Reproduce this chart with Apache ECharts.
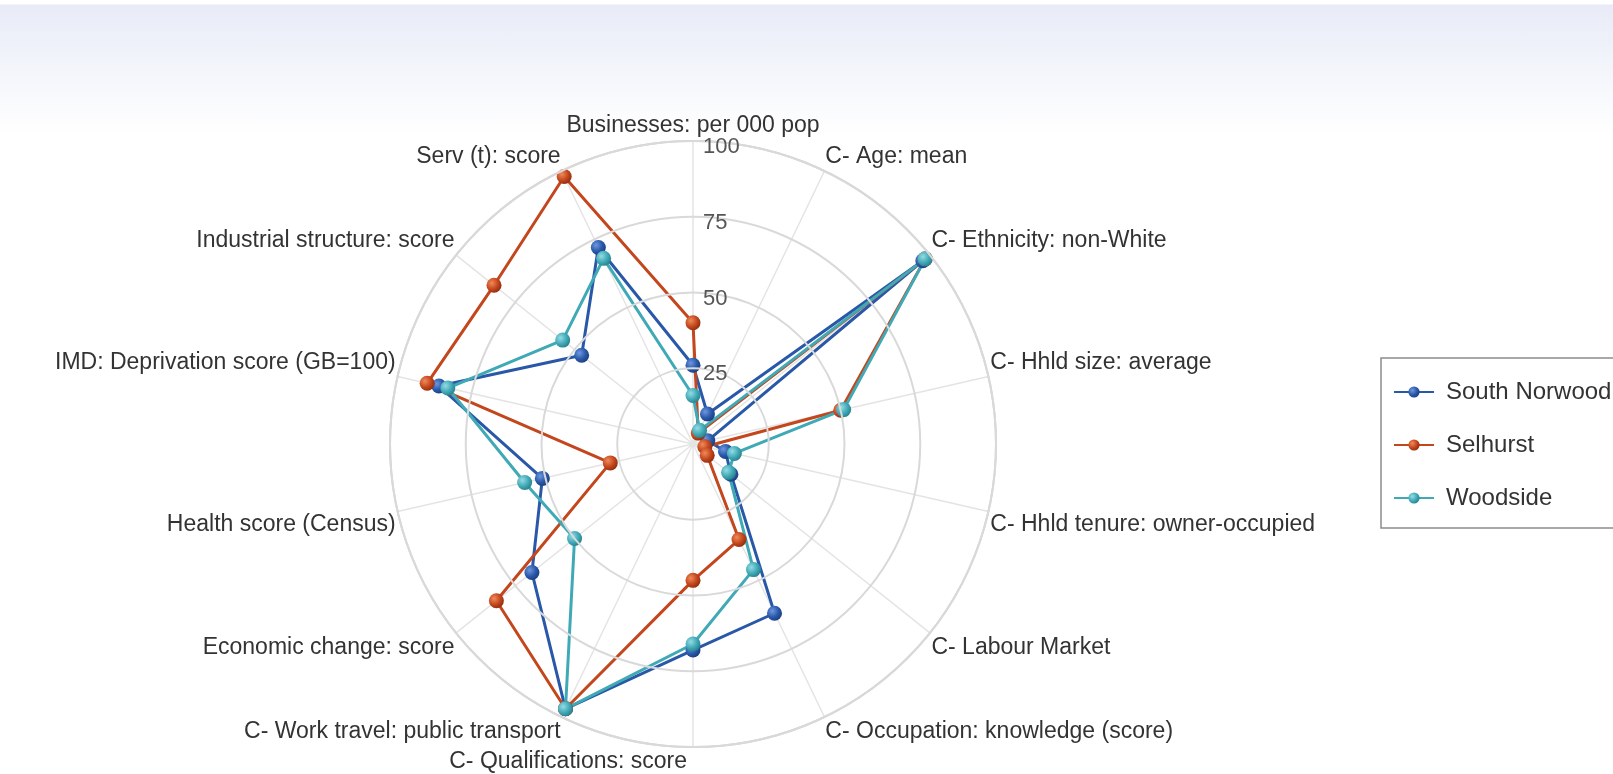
<!DOCTYPE html>
<html>
<head>
<meta charset="utf-8">
<title>Ward profiles</title>
<script src="https://cdn.jsdelivr.net/npm/echarts@6/dist/echarts.min.js"></script>
<style>
html, body { margin: 0; padding: 0; }
body {
    width: 1613px;
    height: 774px;
    overflow: hidden;
    background: linear-gradient(to bottom, #fff 0px, #fff 4px, #e8eaf7 5px, #f2f4fb 60px, #fff 135px);
}
#chart { width: 1613px; height: 774px; }
</style>
</head>
<body>
<div id="chart"></div>
<script>
// axes, clockwise from the top
const axisNames = [
    'Businesses: per 000 pop',
    'C- Age: mean',
    'C- Ethnicity: non-White',
    'C- Hhld size: average',
    'C- Hhld tenure: owner-occupied',
    'C- Labour Market',
    'C- Occupation: knowledge (score)',
    'C- Qualifications: score',
    'C- Work travel: public transport',
    'Economic change: score',
    'Health score (Census)',
    'IMD: Deprivation score (GB=100)',
    'Industrial structure: score',
    'Serv (t): score'
];
const southNorwood = [26, 11, 97, 5, 11, 16, 62, 68, 97, 68, 51, 86, 47, 72];
const selhurst = [40, 4, 98, 50, 4, 6, 35, 45, 97, 83, 28, 90, 84, 98];
const woodside = [16, 5, 98, 51, 14, 15, 46, 66, 97, 50, 57, 83, 55, 68];
const radiusMax = 100;
const radiusStep = 25;

const font = '"Liberation Sans", Arial, sans-serif';
const n = axisNames.length;

// width of the bottom label, used to push it to the left of the spoke
const measure = document.createElement('canvas').getContext('2d');
measure.font = '23px ' + font;
const bottomWidth = measure.measureText(axisNames[n / 2]).width;

function sphere(light, base, dark) {
    return new echarts.graphic.RadialGradient(0.35, 0.35, 0.7, [
        { offset: 0, color: light },
        { offset: 0.6, color: base },
        { offset: 1, color: dark }
    ]);
}

// polar points [radius, angle index], first value repeated to close the ring
function ring(values) {
    const pts = values.map((v, i) => [v, i]);
    pts.push({ value: [values[0], values.length], symbol: 'none' });
    return pts;
}

function makeSeries(name, values, color, marker) {
    return {
        name: name,
        type: 'line',
        coordinateSystem: 'polar',
        data: ring(values),
        symbol: 'circle',
        symbolSize: 15,
        lineStyle: { color: color, width: 3 },
        itemStyle: { color: marker },
        emphasis: { disabled: true }
    };
}

const chart = echarts.init(document.getElementById('chart'), null, { renderer: 'canvas' });

const option = {
    animation: false,
    backgroundColor: 'transparent',
    polar: {
        center: [693, 444],
        radius: 303
    },
    angleAxis: {
        type: 'value',
        min: 0,
        max: n,
        interval: 1,
        startAngle: 90,
        clockwise: true,
        axisLine: { show: true, lineStyle: { color: '#d2d2d2', width: 2 } },
        axisTick: { show: false },
        splitLine: { show: true, lineStyle: { color: '#e4e4e4', width: 1.5 } },
        axisLabel: {
            margin: 2,
            fontSize: 23,
            lineHeight: 26,
            fontFamily: font,
            color: '#333',
            formatter: function (v) {
                const i = Math.round(v);
                if (i >= n) return '';
                const c = Math.cos(i * 2 * Math.PI / n);
                if (Math.abs(c + 1) < 1e-6) return '{q|' + axisNames[i] + '}';
                if (Math.abs(c) < 0.3) {
                    return c > 0 ? axisNames[i] + '\n ' : ' \n' + axisNames[i];
                }
                return axisNames[i];
            },
            rich: {
                q: {
                    fontSize: 23,
                    fontFamily: font,
                    color: '#333',
                    padding: [0, bottomWidth + 12, 0, 0]
                }
            }
        }
    },
    radiusAxis: {
        type: 'value',
        min: 0,
        max: radiusMax,
        interval: radiusStep,
        axisLine: { show: false },
        axisTick: { show: false },
        splitLine: { show: true, lineStyle: { color: '#d9d9d9', width: 2 } },
        axisLabel: {
            margin: -10,
            align: 'left',
            verticalAlign: 'middle',
            lineHeight: 12,
            fontSize: 22,
            fontFamily: font,
            color: '#555',
            // empty first line drops the number a little below its ring
            formatter: v => (v === 0 ? '' : ' \n' + v)
        },
        z: 5
    },
    legend: {
        orient: 'vertical',
        left: 1381,
        top: 358,
        padding: [22, 60, 18, 12],
        itemGap: 29,
        itemWidth: 40,
        itemHeight: 14,
        borderColor: '#8c8c8c',
        borderWidth: 1.5,
        backgroundColor: '#fff',
        textStyle: { fontSize: 24, color: '#333', fontFamily: font, padding: [0, 0, 0, 7] },
        data: ['South Norwood', 'Selhurst', 'Woodside']
    },
    series: [
        makeSeries('South Norwood', southNorwood, '#2a58a8', sphere('#6d97e0', '#2a58a8', '#1a3f80')),
        makeSeries('Selhurst', selhurst, '#c3461c', sphere('#f08a5a', '#c3461c', '#8f2d0f')),
        makeSeries('Woodside', woodside, '#3fa9b6', sphere('#95dbe4', '#3fa9b6', '#2a808c'))
    ]
};

chart.setOption(option);
</script>
</body>
</html>
